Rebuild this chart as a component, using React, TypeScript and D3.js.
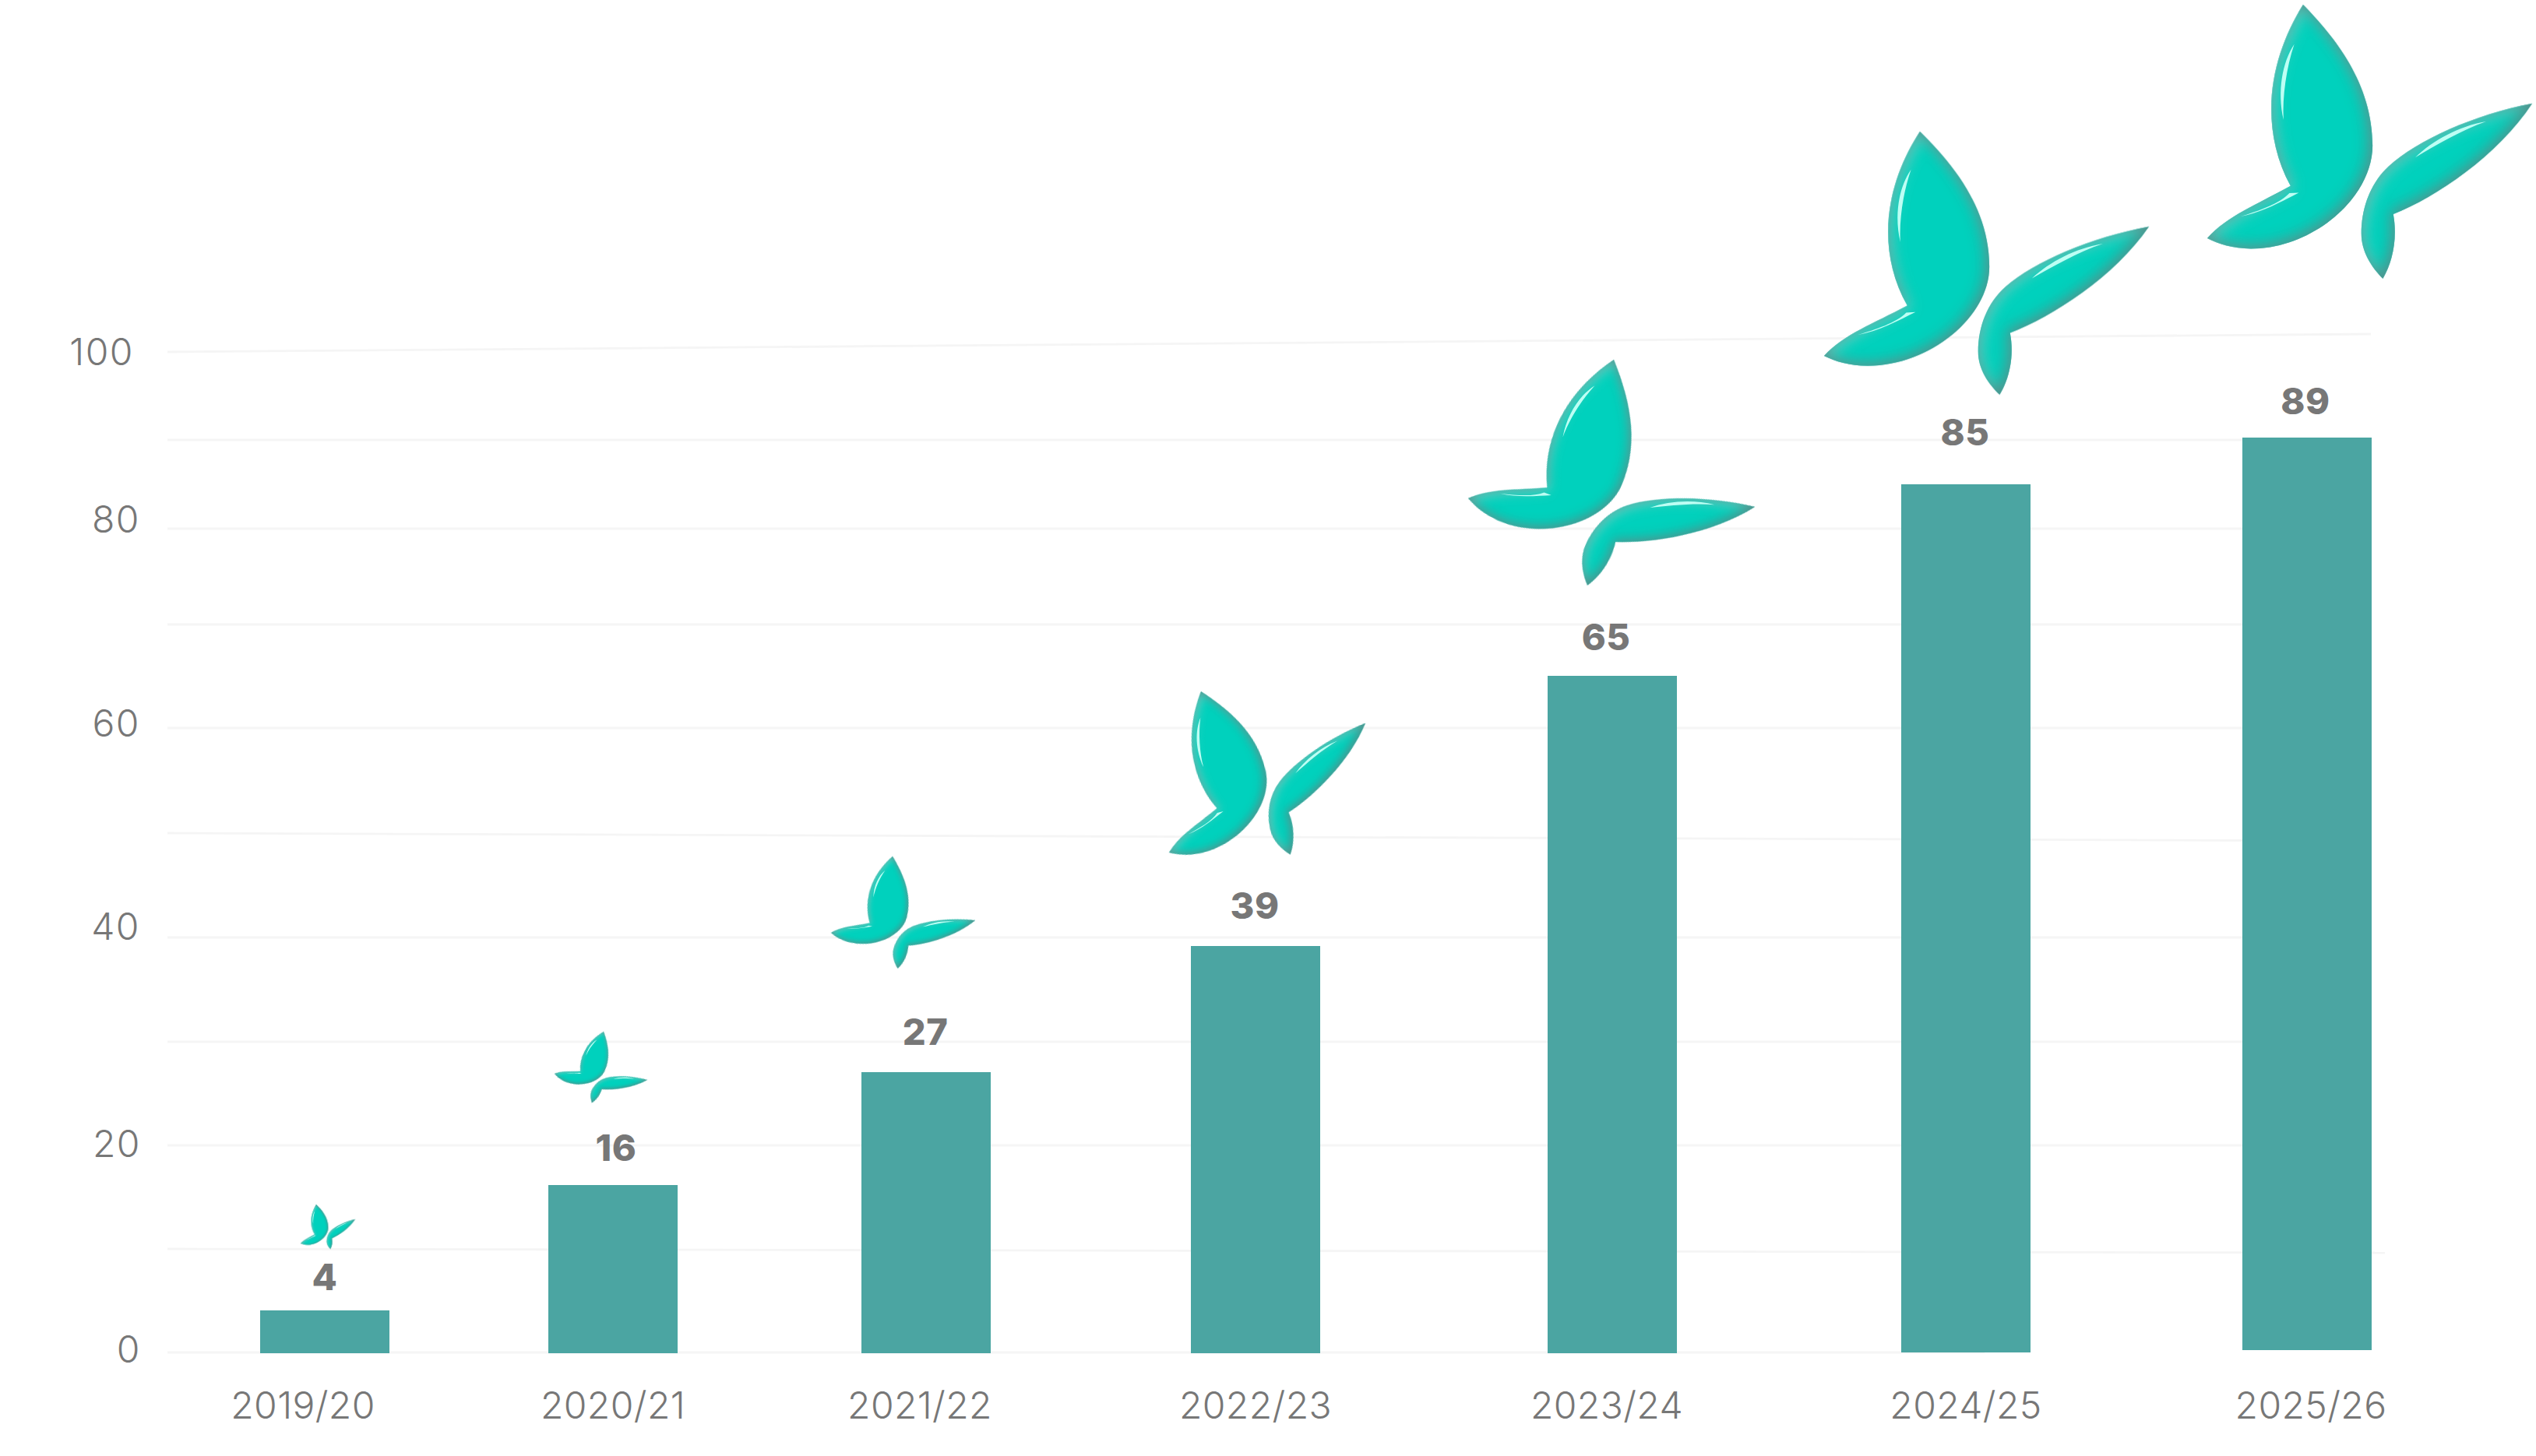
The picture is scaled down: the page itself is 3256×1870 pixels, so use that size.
import React from 'react';
import * as d3 from 'd3';

const seasons = ['2019/20', '2020/21', '2021/22', '2022/23', '2023/24', '2024/25', '2025/26'];
const students = [4, 16, 27, 39, 65, 85, 89];
const gridValues = [0, 10, 20, 30, 40, 50, 60, 70, 80, 90, 100];
const tickValues = [0, 20, 40, 60, 80, 100];

const WIDTH = 3256;
const HEIGHT = 1870;
const BAR_W = 166;
const GRID_LEFT = 215;
const GRID_RIGHT = 3044;

// the picture is hand placed, so the scales are piecewise
const gridY0 = d3.scaleLinear().domain(gridValues).range([1737, 1604, 1471, 1338, 1204, 1070, 935, 802, 679, 565, 452]);
const gridY1 = d3.scaleLinear().domain(gridValues).range([1737, 1609, 1471, 1338, 1204, 1080, 935, 802, 679, 565, 429]);
const gridEnd = (v: number) => (v === 10 ? 3062 : v === 0 ? 2548 : GRID_RIGHT);
const tickBase = d3.scaleOrdinal<number, number>().domain(tickValues).range([1750, 1486, 1207, 946, 684, 469]);
const tickRight = d3.scaleOrdinal<number, number>().domain(tickValues).range([181, 181, 180, 180, 180, 172]);

const barLeft = d3.scaleOrdinal<string, number>().domain(seasons).range([334, 704, 1106, 1529, 1987, 2441, 2879]);
const barBottom = d3.scaleOrdinal<string, number>().domain(seasons).range([1738, 1738, 1738, 1738, 1738, 1737, 1734]);
const barHeight = d3.scaleLinear().domain([0, ...students]).range([0, 55, 216, 361, 523, 870, 1115, 1172]);
const labelX = d3.scaleOrdinal<string, number>().domain(seasons).range([389, 787, 1181, 1612, 2063, 2524, 2967]);
const valueX = d3.scaleOrdinal<string, number>().domain(seasons).range([417, 791, 1188, 1611, 2062, 2523, 2960]);
const valueBase = d3.scaleOrdinal<string, number>().domain(seasons).range([1657, 1491, 1342, 1180, 835, 572, 532]);

// butterfly, drawn once and placed by its three wing tips [left, top, right]
const wingBig = 'M620,18 C740,140 888,320 888,560 C888,760 660,958 420,958 C350,958 295,940 252,918 C330,830 440,790 572,716 C520,620 498,520 498,420 C498,270 550,130 620,18 Z';
const wingSmall = 'M1502,398 C1280,440 1060,540 950,640 C880,705 845,800 845,900 C845,970 885,1030 928,1073 C965,1010 985,920 968,825 C1130,760 1370,600 1502,398 Z';
const glints = [
  'M586,170 C540,240 520,350 545,462 C540,370 556,260 586,170 Z',
  'M604,742 L568,744 C530,785 450,812 380,834 C460,820 540,775 604,742 Z',
  'M1325,467 C1220,485 1120,540 1052,606 C1130,560 1230,500 1325,467 Z',
];
const baseTips = [[252, 918], [620, 18], [1502, 398]];
const butterflyTips = [
  [[386, 1597], [406, 1547], [456, 1566]],
  [[712, 1379], [775, 1325], [831, 1387]],
  [[1067, 1198], [1146, 1100], [1252, 1182]],
  [[1501, 1095], [1542, 888], [1753, 929]],
  [[1885, 640], [2072, 462], [2253, 651]],
  [[2342, 457], [2465, 169], [2759, 291]],
  [[2834, 306], [2957, 6], [3251, 133]],
];

// affine matrix that takes baseTips onto the given tips
const tipMatrix = (tips: number[][]) => {
  const [[x0, y0], [x1, y1], [x2, y2]] = baseTips;
  const det = (x1 - x0) * (y2 - y0) - (x2 - x0) * (y1 - y0);
  const solve = (v0: number, v1: number, v2: number) => {
    const p = ((v1 - v0) * (y2 - y0) - (v2 - v0) * (y1 - y0)) / det;
    const q = ((x1 - x0) * (v2 - v0) - (x2 - x0) * (v1 - v0)) / det;
    return [p, q, v0 - p * x0 - q * y0];
  };
  const [a, c, e] = solve(tips[0][0], tips[1][0], tips[2][0]);
  const [b, d, f] = solve(tips[0][1], tips[1][1], tips[2][1]);
  return `matrix(${a} ${b} ${c} ${d} ${e} ${f})`;
};

const TEXT = '#777777';
const FONT = 'Inter, "Noto Sans", sans-serif';

const App: React.FC = () => (
  <svg
    width={WIDTH}
    height={HEIGHT}
    viewBox={`0 0 ${WIDTH} ${HEIGHT}`}
    style={{ position: 'absolute', left: 0, top: 0, display: 'block', background: '#fff' }}
  >
    <defs>
      <filter id="bevel" filterUnits="userSpaceOnUse" x="0" y="-200" width="1800" height="1500" colorInterpolationFilters="sRGB">
        <feGaussianBlur in="SourceAlpha" stdDeviation="28" result="blur" />
        <feOffset in="blur" dx="-12" dy="-9" result="shiftDark" />
        <feComposite in="SourceAlpha" in2="shiftDark" operator="out" result="edgeDark" />
        <feFlood floodColor="#4a8a85" floodOpacity="0.95" result="darkColor" />
        <feComposite in="darkColor" in2="edgeDark" operator="in" result="dark" />
        <feOffset in="blur" dx="13" dy="10" result="shiftLight" />
        <feComposite in="SourceAlpha" in2="shiftLight" operator="out" result="edgeLight" />
        <feFlood floodColor="#7fd4c8" floodOpacity="0.85" result="lightColor" />
        <feComposite in="lightColor" in2="edgeLight" operator="in" result="light" />
        <feMerge>
          <feMergeNode in="SourceGraphic" />
          <feMergeNode in="light" />
          <feMergeNode in="dark" />
        </feMerge>
      </filter>
    </defs>

    {gridValues.map((v) => (
      <line key={v} x1={GRID_LEFT} x2={gridEnd(v)} y1={gridY0(v)} y2={gridY1(v)} stroke="#f5f5f5" strokeWidth={2.8} />
    ))}

    {tickValues.map((v) => (
      <text key={v} x={tickRight(v)} y={tickBase(v)} textAnchor="end" fontFamily={FONT} fontWeight={300} fontSize={48} letterSpacing={1.5} fill={TEXT}>
        {v}
      </text>
    ))}

    {seasons.map((s, i) => (
      <g key={s}>
        <rect x={barLeft(s)} y={barBottom(s) - barHeight(students[i])} width={BAR_W} height={barHeight(students[i])} fill="#4ba5a2" />
        <text x={valueX(s)} y={valueBase(s)} textAnchor="middle" fontFamily={FONT} fontWeight={800} fontSize={47} letterSpacing={0.5} fill={TEXT}>
          {students[i]}
        </text>
        <text x={labelX(s)} y={1822} textAnchor="middle" fontFamily={FONT} fontWeight={300} fontSize={48} letterSpacing={0.4} fill={TEXT}>
          {s}
        </text>
        <g transform={tipMatrix(butterflyTips[i])}>
          <path d={wingBig} fill="#00d1bd" filter="url(#bevel)" />
          <path d={wingSmall} fill="#00d1bd" filter="url(#bevel)" />
          {glints.map((g) => (
            <path key={g} d={g} fill="#bdfff4" />
          ))}
        </g>
      </g>
    ))}
  </svg>
);

export default App;
